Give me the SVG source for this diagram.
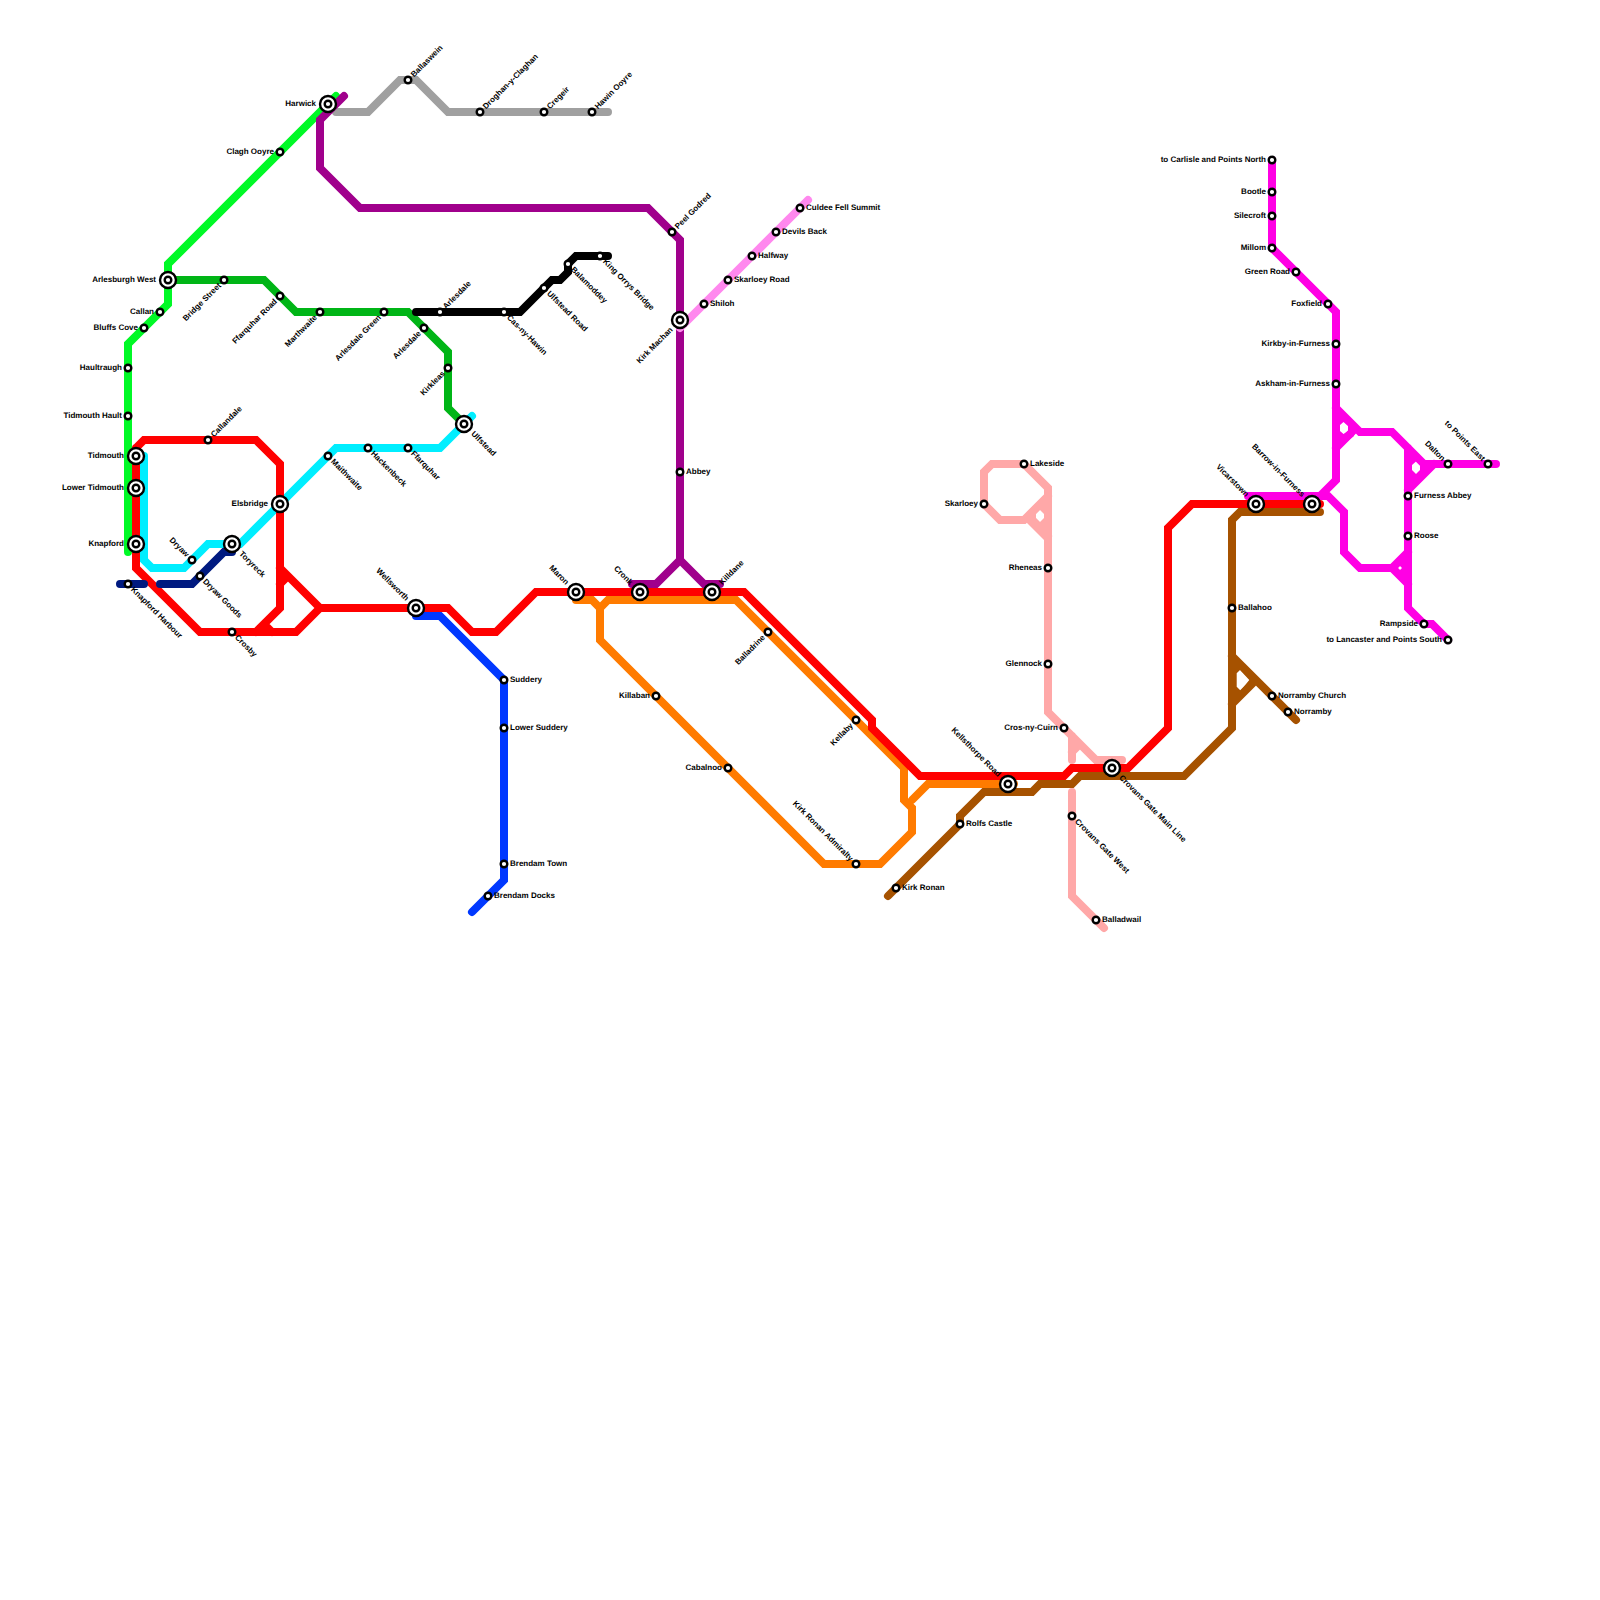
<svg xmlns="http://www.w3.org/2000/svg" width="1600" height="1600" viewBox="0 0 1600 1600">
<style>
.ln{fill:none;stroke-width:8;stroke-linecap:round;stroke-linejoin:miter}
.s{fill:#fff;stroke:#000;stroke-width:2.4}
.i{fill:#fff;stroke:#000;stroke-width:2.4}
text{font-family:"Liberation Sans",Arial,sans-serif;font-size:8px;font-weight:bold;fill:#000;text-rendering:geometricPrecision}
.e{text-anchor:end}
.h{fill-rule:evenodd}
</style>
<rect width="1600" height="1600" fill="#fff"/>
<g id="connectors">
<path class="ln" stroke="#00f926" d="M336,96L168,264V304L128,344V552"/>
<path class="ln" stroke="#a0a0a0" d="M336,112H368L400,80H416L448,112H608"/>
<path class="ln" stroke="#00b516" d="M168,280H264L296,312H408L448,352V408L464,424"/>
<path class="ln" stroke="#00eeff" d="M472,416L440,448H336L240,544H208L184,568H152L144,560V456"/>
<path class="ln" stroke="#a0008c" d="M344,96L320,120V168L360,208H648L680,240V560L656,584H632M680,560L704,584H720"/>
<path class="ln" stroke="#ff88ee" d="M680,328L808,200"/>
<path class="ln" stroke="#000" d="M416,312H520L552,280H560L568,272V264L576,256H608"/>
<path class="ln" stroke="#0038ff" d="M416,616H440L504,680V880L472,912"/>
<path class="ln" stroke="#ff7b00" d="M576,600H592L600,608L608,600H736L904,768V800L912,808V832L880,864H824L600,640V608M912,800L928,784H1014"/>
<path class="ln" stroke="#ff0000" d="M136,448L144,440H256L280,464V608L256,632M136,448V568L200,632H296L320,608H448L472,632H496L536,592H744L872,720V728L920,776H1064L1072,768H1128L1168,728V528L1192,504H1320M280,568L320,608M280,584L288,576M264,624L272,632"/>
<path class="ln" stroke="#001a80" d="M120,584H144M160,584H192L224,552H232"/>
<path class="ln" stroke="#ffa8a8" d="M1104,928L1072,896V792M1072,760V736M1072,752L1080,744M1122,760H1096L1048,712V488L1024,464H992L984,472V504L1000,520H1024L1048,496M1032,520L1048,536"/>
<path class="h" fill="#ffa8a8" d="M1048,496L1024,520L1048,544ZM1036,514L1040,510L1044,514V518L1040,522L1036,518Z"/>
<path class="ln" stroke="#a65200" d="M888,896L960,824V816L984,792H1032L1040,784H1072L1080,776H1184L1232,728V520L1240,512H1320M1232,656L1296,720M1232,704L1256,680"/>
<path class="h" fill="#a65200" d="M1232,656L1256,680L1232,704ZM1236.7,673.3L1240,670L1249.3,680L1240.7,690.7L1236.7,686.7Z"/>
<path class="ln" stroke="#ff00e4" d="M1272,160V248L1336,312V480L1320,496H1248M1320,496H1328L1344,512V552L1360,568H1392L1408,552M1336,408L1360,432H1392L1424,464H1496M1336,448L1352,432M1408,448V608L1424,624H1432L1448,640M1408,490L1434,464M1392,568L1408,584"/>
<path class="h" fill="#ff00e4" d="M1336,408L1354,428V436L1336,450ZM1340,425L1343.5,422L1348,426V431L1343.5,434L1340,431ZM1408,448L1424,464H1434L1408,490ZM1412,465L1416,461.5L1420,465.5V470L1416,474L1412,470ZM1408,552L1392,568L1408,584ZM1400,566L1402,568L1400,570L1398,568Z"/>
</g>
<g id="n1"><circle class="i" cx="328" cy="104" r="8"/><circle class="s" cx="328" cy="104" r="3.3"/><text class="e" x="316" y="105.5">Harwick</text></g>
<g id="n2"><circle class="s" cx="408" cy="80" r="3.3"/><text transform="translate(408 80) rotate(-45)" x="6" y="2.5">Ballaswein</text></g>
<g id="n3"><circle class="s" cx="480" cy="112" r="3.3"/><text transform="translate(480 112) rotate(-45)" x="6" y="2.5">Droghan-y-Claghan</text></g>
<g id="n4"><circle class="s" cx="544" cy="112" r="3.3"/><text transform="translate(544 112) rotate(-45)" x="6" y="2.5">Cregeir</text></g>
<g id="n5"><circle class="s" cx="592" cy="112" r="3.3"/><text transform="translate(592 112) rotate(-45)" x="6" y="2.5">Hawin Ooyre</text></g>
<g id="n6"><circle class="s" cx="280" cy="152" r="3.3"/><text class="e" x="274" y="153.5">Clagh Ooyre</text></g>
<g id="n7"><circle class="i" cx="168" cy="280" r="8"/><circle class="s" cx="168" cy="280" r="3.3"/><text class="e" x="156" y="281.5">Arlesburgh West</text></g>
<g id="n8"><circle class="s" cx="224" cy="280" r="3.3"/><text class="e" transform="translate(224 280) rotate(-45)" x="-6" y="2.5">Bridge Street</text></g>
<g id="n9"><circle class="s" cx="280" cy="296" r="3.3"/><text class="e" transform="translate(280 296) rotate(-45)" x="-6" y="2.5">Ffarquhar Road</text></g>
<g id="n10"><circle class="s" cx="320" cy="312" r="3.3"/><text class="e" transform="translate(320 312) rotate(-45)" x="-6" y="2.5">Marthwaite</text></g>
<g id="n11"><circle class="s" cx="384" cy="312" r="3.3"/><text class="e" transform="translate(384 312) rotate(-45)" x="-6" y="2.5">Arlesdale Green</text></g>
<g id="n12"><circle class="s" cx="424" cy="328" r="3.3"/><text class="e" transform="translate(424 328) rotate(-45)" x="-6" y="2.5">Arlesdale</text></g>
<g id="n13"><circle class="s" cx="448" cy="368" r="3.3"/><text class="e" transform="translate(448 368) rotate(-45)" x="-6" y="2.5">Kirkleas</text></g>
<g id="n14"><circle class="i" cx="464" cy="424" r="8"/><circle class="s" cx="464" cy="424" r="3.3"/><text transform="translate(464 424) rotate(45)" x="12" y="2.5">Ulfstead</text></g>
<g id="n15"><circle class="s" cx="160" cy="312" r="3.3"/><text class="e" x="154" y="313.5">Callan</text></g>
<g id="n16"><circle class="s" cx="144" cy="328" r="3.3"/><text class="e" x="138" y="329.5">Bluffs Cove</text></g>
<g id="n17"><circle class="s" cx="128" cy="368" r="3.3"/><text class="e" x="122" y="369.5">Haultraugh</text></g>
<g id="n18"><circle class="s" cx="128" cy="416" r="3.3"/><text class="e" x="122" y="417.5">Tidmouth Hault</text></g>
<g id="n19"><circle class="i" cx="136" cy="456" r="8"/><circle class="s" cx="136" cy="456" r="3.3"/><text class="e" x="124" y="457.5">Tidmouth</text></g>
<g id="n20"><circle class="i" cx="136" cy="488" r="8"/><circle class="s" cx="136" cy="488" r="3.3"/><text class="e" x="124" y="489.5">Lower Tidmouth</text></g>
<g id="n21"><circle class="i" cx="136" cy="544" r="8"/><circle class="s" cx="136" cy="544" r="3.3"/><text class="e" x="124" y="545.5">Knapford</text></g>
<g id="n22"><circle class="s" cx="208" cy="440" r="3.3"/><text transform="translate(208 440) rotate(-45)" x="6" y="2.5">Callandale</text></g>
<g id="n23"><circle class="i" cx="280" cy="504" r="8"/><circle class="s" cx="280" cy="504" r="3.3"/><text class="e" x="268" y="505.5">Elsbridge</text></g>
<g id="n24"><circle class="s" cx="328" cy="456" r="3.3"/><text transform="translate(328 456) rotate(45)" x="6" y="2.5">Maithwaite</text></g>
<g id="n25"><circle class="s" cx="368" cy="448" r="3.3"/><text transform="translate(368 448) rotate(45)" x="6" y="2.5">Hackenbeck</text></g>
<g id="n26"><circle class="s" cx="408" cy="448" r="3.3"/><text transform="translate(408 448) rotate(45)" x="6" y="2.5">Ffarquhar</text></g>
<g id="n27"><circle class="i" cx="232" cy="544" r="8"/><circle class="s" cx="232" cy="544" r="3.3"/><text transform="translate(232 544) rotate(45)" x="12" y="2.5">Toryreck</text></g>
<g id="n28"><circle class="s" cx="192" cy="560" r="3.3"/><text class="e" transform="translate(192 560) rotate(45)" x="-6" y="2.5">Dryaw</text></g>
<g id="n29"><circle class="s" cx="200" cy="576" r="3.3"/><text transform="translate(200 576) rotate(45)" x="6" y="2.5">Dryaw Goods</text></g>
<g id="n30"><circle class="s" cx="128" cy="584" r="3.3"/><text transform="translate(128 584) rotate(45)" x="6" y="2.5">Knapford Harbour</text></g>
<g id="n31"><circle class="s" cx="232" cy="632" r="3.3"/><text transform="translate(232 632) rotate(45)" x="6" y="2.5">Crosby</text></g>
<g id="n32"><circle class="i" cx="416" cy="608" r="8"/><circle class="s" cx="416" cy="608" r="3.3"/><text class="e" transform="translate(416 608) rotate(45)" x="-12" y="2.5">Wellsworth</text></g>
<g id="n33"><circle class="s" cx="504" cy="680" r="3.3"/><text x="510" y="681.5">Suddery</text></g>
<g id="n34"><circle class="s" cx="504" cy="728" r="3.3"/><text x="510" y="729.5">Lower Suddery</text></g>
<g id="n35"><circle class="s" cx="504" cy="864" r="3.3"/><text x="510" y="865.5">Brendam Town</text></g>
<g id="n36"><circle class="s" cx="488" cy="896" r="3.3"/><text x="494" y="897.5">Brendam Docks</text></g>
<g id="n37"><circle class="s" cx="440" cy="312" r="3.3"/><text transform="translate(440 312) rotate(-45)" x="6" y="2.5">Arlesdale</text></g>
<g id="n38"><circle class="s" cx="504" cy="312" r="3.3"/><text transform="translate(504 312) rotate(45)" x="6" y="2.5">Cas-ny-Hawin</text></g>
<g id="n39"><circle class="s" cx="544" cy="288" r="3.3"/><text transform="translate(544 288) rotate(45)" x="6" y="2.5">Ulfstead Road</text></g>
<g id="n40"><circle class="s" cx="568" cy="264" r="3.3"/><text transform="translate(568 264) rotate(45)" x="6" y="2.5">Balamoddey</text></g>
<g id="n41"><circle class="s" cx="600" cy="256" r="3.3"/><text transform="translate(600 256) rotate(45)" x="6" y="2.5">King Orrys Bridge</text></g>
<g id="n42"><circle class="s" cx="672" cy="232" r="3.3"/><text transform="translate(672 232) rotate(-45)" x="6" y="2.5">Peel Godred</text></g>
<g id="n43"><circle class="i" cx="680" cy="320" r="8"/><circle class="s" cx="680" cy="320" r="3.3"/><text class="e" transform="translate(680 320) rotate(-45)" x="-12" y="2.5">Kirk Machan</text></g>
<g id="n44"><circle class="s" cx="704" cy="304" r="3.3"/><text x="710" y="305.5">Shiloh</text></g>
<g id="n45"><circle class="s" cx="728" cy="280" r="3.3"/><text x="734" y="281.5">Skarloey Road</text></g>
<g id="n46"><circle class="s" cx="752" cy="256" r="3.3"/><text x="758" y="257.5">Halfway</text></g>
<g id="n47"><circle class="s" cx="776" cy="232" r="3.3"/><text x="782" y="233.5">Devils Back</text></g>
<g id="n48"><circle class="s" cx="800" cy="208" r="3.3"/><text x="806" y="209.5">Culdee Fell Summit</text></g>
<g id="n49"><circle class="s" cx="680" cy="472" r="3.3"/><text x="686" y="473.5">Abbey</text></g>
<g id="n50"><circle class="i" cx="576" cy="592" r="8"/><circle class="s" cx="576" cy="592" r="3.3"/><text class="e" transform="translate(576 592) rotate(45)" x="-12" y="2.5">Maron</text></g>
<g id="n51"><circle class="i" cx="640" cy="592" r="8"/><circle class="s" cx="640" cy="592" r="3.3"/><text class="e" transform="translate(640 592) rotate(45)" x="-12" y="2.5">Cronk</text></g>
<g id="n52"><circle class="i" cx="712" cy="592" r="8"/><circle class="s" cx="712" cy="592" r="3.3"/><text transform="translate(712 592) rotate(-45)" x="12" y="2.5">Killdane</text></g>
<g id="n53"><circle class="s" cx="768" cy="632" r="3.3"/><text class="e" transform="translate(768 632) rotate(-45)" x="-6" y="2.5">Balladrine</text></g>
<g id="n54"><circle class="s" cx="656" cy="696" r="3.3"/><text class="e" x="650" y="697.5">Killaban</text></g>
<g id="n55"><circle class="s" cx="728" cy="768" r="3.3"/><text class="e" x="722" y="769.5">Cabalnoo</text></g>
<g id="n56"><circle class="s" cx="856" cy="720" r="3.3"/><text class="e" transform="translate(856 720) rotate(-45)" x="-6" y="2.5">Kellaby</text></g>
<g id="n57"><circle class="s" cx="856" cy="864" r="3.3"/><text class="e" transform="translate(856 864) rotate(45)" x="-6" y="2.5">Kirk Ronan Admiralty</text></g>
<g id="n58"><circle class="s" cx="896" cy="888" r="3.3"/><text x="902" y="889.5">Kirk Ronan</text></g>
<g id="n59"><circle class="s" cx="960" cy="824" r="3.3"/><text x="966" y="825.5">Rolfs Castle</text></g>
<g id="n60"><circle class="i" cx="1008" cy="784" r="8"/><circle class="s" cx="1008" cy="784" r="3.3"/><text class="e" transform="translate(1008 784) rotate(45)" x="-12" y="2.5">Kellsthorpe Road</text></g>
<g id="n61"><circle class="i" cx="1112" cy="768" r="8"/><circle class="s" cx="1112" cy="768" r="3.3"/><text transform="translate(1112 768) rotate(45)" x="12" y="2.5">Crovans Gate Main Line</text></g>
<g id="n62"><circle class="s" cx="1072" cy="816" r="3.3"/><text transform="translate(1072 816) rotate(45)" x="6" y="2.5">Crovans Gate West</text></g>
<g id="n63"><circle class="s" cx="1096" cy="920" r="3.3"/><text x="1102" y="921.5">Balladwail</text></g>
<g id="n64"><circle class="s" cx="1064" cy="728" r="3.3"/><text class="e" x="1058" y="729.5">Cros-ny-Cuirn</text></g>
<g id="n65"><circle class="s" cx="1048" cy="664" r="3.3"/><text class="e" x="1042" y="665.5">Glennock</text></g>
<g id="n66"><circle class="s" cx="1048" cy="568" r="3.3"/><text class="e" x="1042" y="569.5">Rheneas</text></g>
<g id="n67"><circle class="s" cx="1024" cy="464" r="3.3"/><text x="1030" y="465.5">Lakeside</text></g>
<g id="n68"><circle class="s" cx="984" cy="504" r="3.3"/><text class="e" x="978" y="505.5">Skarloey</text></g>
<g id="n69"><circle class="s" cx="1232" cy="608" r="3.3"/><text x="1238" y="609.5">Ballahoo</text></g>
<g id="n70"><circle class="s" cx="1272" cy="696" r="3.3"/><text x="1278" y="697.5">Norramby Church</text></g>
<g id="n71"><circle class="s" cx="1288" cy="712" r="3.3"/><text x="1294" y="713.5">Norramby</text></g>
<g id="n72"><circle class="i" cx="1256" cy="504" r="8"/><circle class="s" cx="1256" cy="504" r="3.3"/><text class="e" transform="translate(1256 504) rotate(45)" x="-12" y="2.5">Vicarstown</text></g>
<g id="n73"><circle class="i" cx="1312" cy="504" r="8"/><circle class="s" cx="1312" cy="504" r="3.3"/><text class="e" transform="translate(1312 504) rotate(45)" x="-12" y="2.5">Barrow-in-Furness</text></g>
<g id="n74"><circle class="s" cx="1272" cy="160" r="3.3"/><text class="e" x="1266" y="161.5">to Carlisle and Points North</text></g>
<g id="n75"><circle class="s" cx="1272" cy="192" r="3.3"/><text class="e" x="1266" y="193.5">Bootle</text></g>
<g id="n76"><circle class="s" cx="1272" cy="216" r="3.3"/><text class="e" x="1266" y="217.5">Silecroft</text></g>
<g id="n77"><circle class="s" cx="1272" cy="248" r="3.3"/><text class="e" x="1266" y="249.5">Millom</text></g>
<g id="n78"><circle class="s" cx="1296" cy="272" r="3.3"/><text class="e" x="1290" y="273.5">Green Road</text></g>
<g id="n79"><circle class="s" cx="1328" cy="304" r="3.3"/><text class="e" x="1322" y="305.5">Foxfield</text></g>
<g id="n80"><circle class="s" cx="1336" cy="344" r="3.3"/><text class="e" x="1330" y="345.5">Kirkby-in-Furness</text></g>
<g id="n81"><circle class="s" cx="1336" cy="384" r="3.3"/><text class="e" x="1330" y="385.5">Askham-in-Furness</text></g>
<g id="n82"><circle class="s" cx="1448" cy="464" r="3.3"/><text class="e" transform="translate(1448 464) rotate(45)" x="-6" y="2.5">Dalton</text></g>
<g id="n83"><circle class="s" cx="1488" cy="464" r="3.3"/><text class="e" transform="translate(1488 464) rotate(45)" x="-6" y="2.5">to Points East</text></g>
<g id="n84"><circle class="s" cx="1408" cy="496" r="3.3"/><text x="1414" y="497.5">Furness Abbey</text></g>
<g id="n85"><circle class="s" cx="1408" cy="536" r="3.3"/><text x="1414" y="537.5">Roose</text></g>
<g id="n86"><circle class="s" cx="1424" cy="624" r="3.3"/><text class="e" x="1418" y="625.5">Rampside</text></g>
<g id="n87"><circle class="s" cx="1448" cy="640" r="3.3"/><text class="e" x="1442" y="641.5">to Lancaster and Points South</text></g>
</svg>
